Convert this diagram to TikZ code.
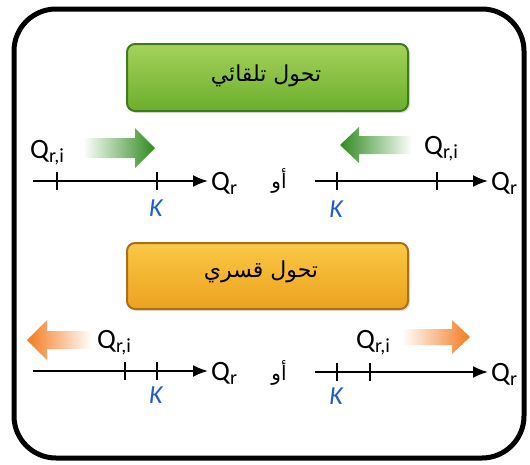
\documentclass[tikz,border=0pt]{standalone}
\usepackage{fontspec}
\setmainfont{Carlito}
\newfontfamily\arabicfont[Script=Arabic]{DejaVu Sans}
\TeXXeTstate=1
\usetikzlibrary{arrows.meta,shadows}
\definecolor{kblue}{HTML}{1F5FC8}
\definecolor{gtop}{HTML}{A5D25A}
\definecolor{gbot}{HTML}{6CAE2C}
\definecolor{gedge}{HTML}{3E7A1E}
\definecolor{gdark}{HTML}{2E8A1E}
\definecolor{otop}{HTML}{F9C845}
\definecolor{obot}{HTML}{EDA21E}
\definecolor{oedge}{HTML}{A8701A}
\definecolor{odark}{HTML}{F47A1E}
\newcommand\Qsub[1]{Q\raisebox{-0.3ex}{\fontsize{20}{22}\selectfont #1}}
\begin{document}
\begin{tikzpicture}[x=1pt,y=-1pt,
  axis/.style={line width=2, -{Latex[length=15,width=12]}},
  tickmark/.style={line width=1.8},
  lbl/.style={font=\fontsize{28}{30}\selectfont, inner sep=0},
  klbl/.style={font=\fontsize{26}{28}\selectfont\itshape, text=kblue, inner sep=0},
  ar/.style={font=\arabicfont\fontsize{22}{26}\selectfont, inner sep=0},
  orlbl/.style={font=\arabicfont\fontsize{20}{22}\selectfont, inner sep=0},
  boxg/.style={rounded corners=8, draw=gedge, line width=2, top color=gtop, bottom color=gbot, drop shadow={opacity=0.25, shadow xshift=2pt, shadow yshift=-2pt}},
  boxo/.style={rounded corners=8, draw=oedge, line width=2, top color=otop, bottom color=obot, drop shadow={opacity=0.25, shadow xshift=2pt, shadow yshift=-2pt}}
]
\useasboundingbox (0,0) rectangle (530,464);
\draw[line width=5, rounded corners=42] (14,9) rectangle (524,458);

% boxes
\path[boxg] (127,44) rectangle (408,111);
\node[ar] (t1) at (266,76) {\beginR تحول تلقائي\endR};
\path[boxo] (127,243) rectangle (408,309);
\node[ar] (t2) at (261,272) {\beginR تحول قسري\endR};

% ---------- top left ----------
\coordinate (a1s) at (33,181); \coordinate (a1e) at (208,181);
\draw[axis] (a1s) -- (a1e);
\draw[tickmark] (57,172) -- (57,190);
\draw[tickmark] (157,172) -- (157,190);
\node[lbl, anchor=west] (q1) at ([xshift=3pt,yshift=-2pt]a1e) {\Qsub{r}};
\node[lbl, anchor=base west] (qi1) at (30,158) {\Qsub{r,i}};
\node[klbl, anchor=base] (k1) at (156,216) {K};
\shade[left color=white, right color=gdark] (83,138) -- (135,138) -- (135,128) -- (155,148) -- (135,168) -- (135,158) -- (83,158) -- cycle;

% ---------- top right ----------
\node[orlbl] (o1) at (279,181) {\beginR أو\endR};
\coordinate (a2s) at (315,181); \coordinate (a2e) at (488,181);
\draw[axis] (a2s) -- (a2e);
\draw[tickmark] (337,172) -- (337,190);
\draw[tickmark] (437,172) -- (437,190);
\node[lbl, anchor=west] (q2) at ([xshift=3pt,yshift=-2pt]a2e) {\Qsub{r}};
\node[lbl, anchor=base west] (qi2) at (424,154) {\Qsub{r,i}};
\node[klbl, anchor=base] (k2) at (336,217) {K};
\shade[left color=gdark, right color=white] (412,136) -- (359,136) -- (359,127) -- (340,145) -- (359,163) -- (359,154) -- (412,154) -- cycle;

% ---------- bottom left ----------
\coordinate (a3s) at (33,371); \coordinate (a3e) at (208,371);
\draw[axis] (a3s) -- (a3e);
\draw[tickmark] (125,362) -- (125,380);
\draw[tickmark] (157,362) -- (157,380);
\node[lbl, anchor=west] (q3) at ([xshift=3pt,yshift=-2pt]a3e) {\Qsub{r}};
\node[lbl, anchor=base west] (qi3) at (97,348) {\Qsub{r,i}};
\node[klbl, anchor=base] (k3) at (156,403) {K};
\shade[left color=odark, right color=white] (92,331) -- (47,331) -- (47,320) -- (27,340) -- (47,360) -- (47,349) -- (92,349) -- cycle;

% ---------- bottom right ----------
\node[orlbl] (o2) at (279,373) {\beginR أو\endR};
\coordinate (a4s) at (315,372); \coordinate (a4e) at (488,372);
\draw[axis] (a4s) -- (a4e);
\draw[tickmark] (337,363) -- (337,381);
\draw[tickmark] (370,363) -- (370,381);
\node[lbl, anchor=west] (q4) at ([xshift=3pt,yshift=-2pt]a4e) {\Qsub{r}};
\node[lbl, anchor=base west] (qi4) at (356,348) {\Qsub{r,i}};
\node[klbl, anchor=base] (k4) at (336,404) {K};
\shade[left color=white, right color=odark] (402,329) -- (452,329) -- (452,320) -- (470,337) -- (452,354) -- (452,345) -- (402,345) -- cycle;
\end{tikzpicture}
\end{document}
